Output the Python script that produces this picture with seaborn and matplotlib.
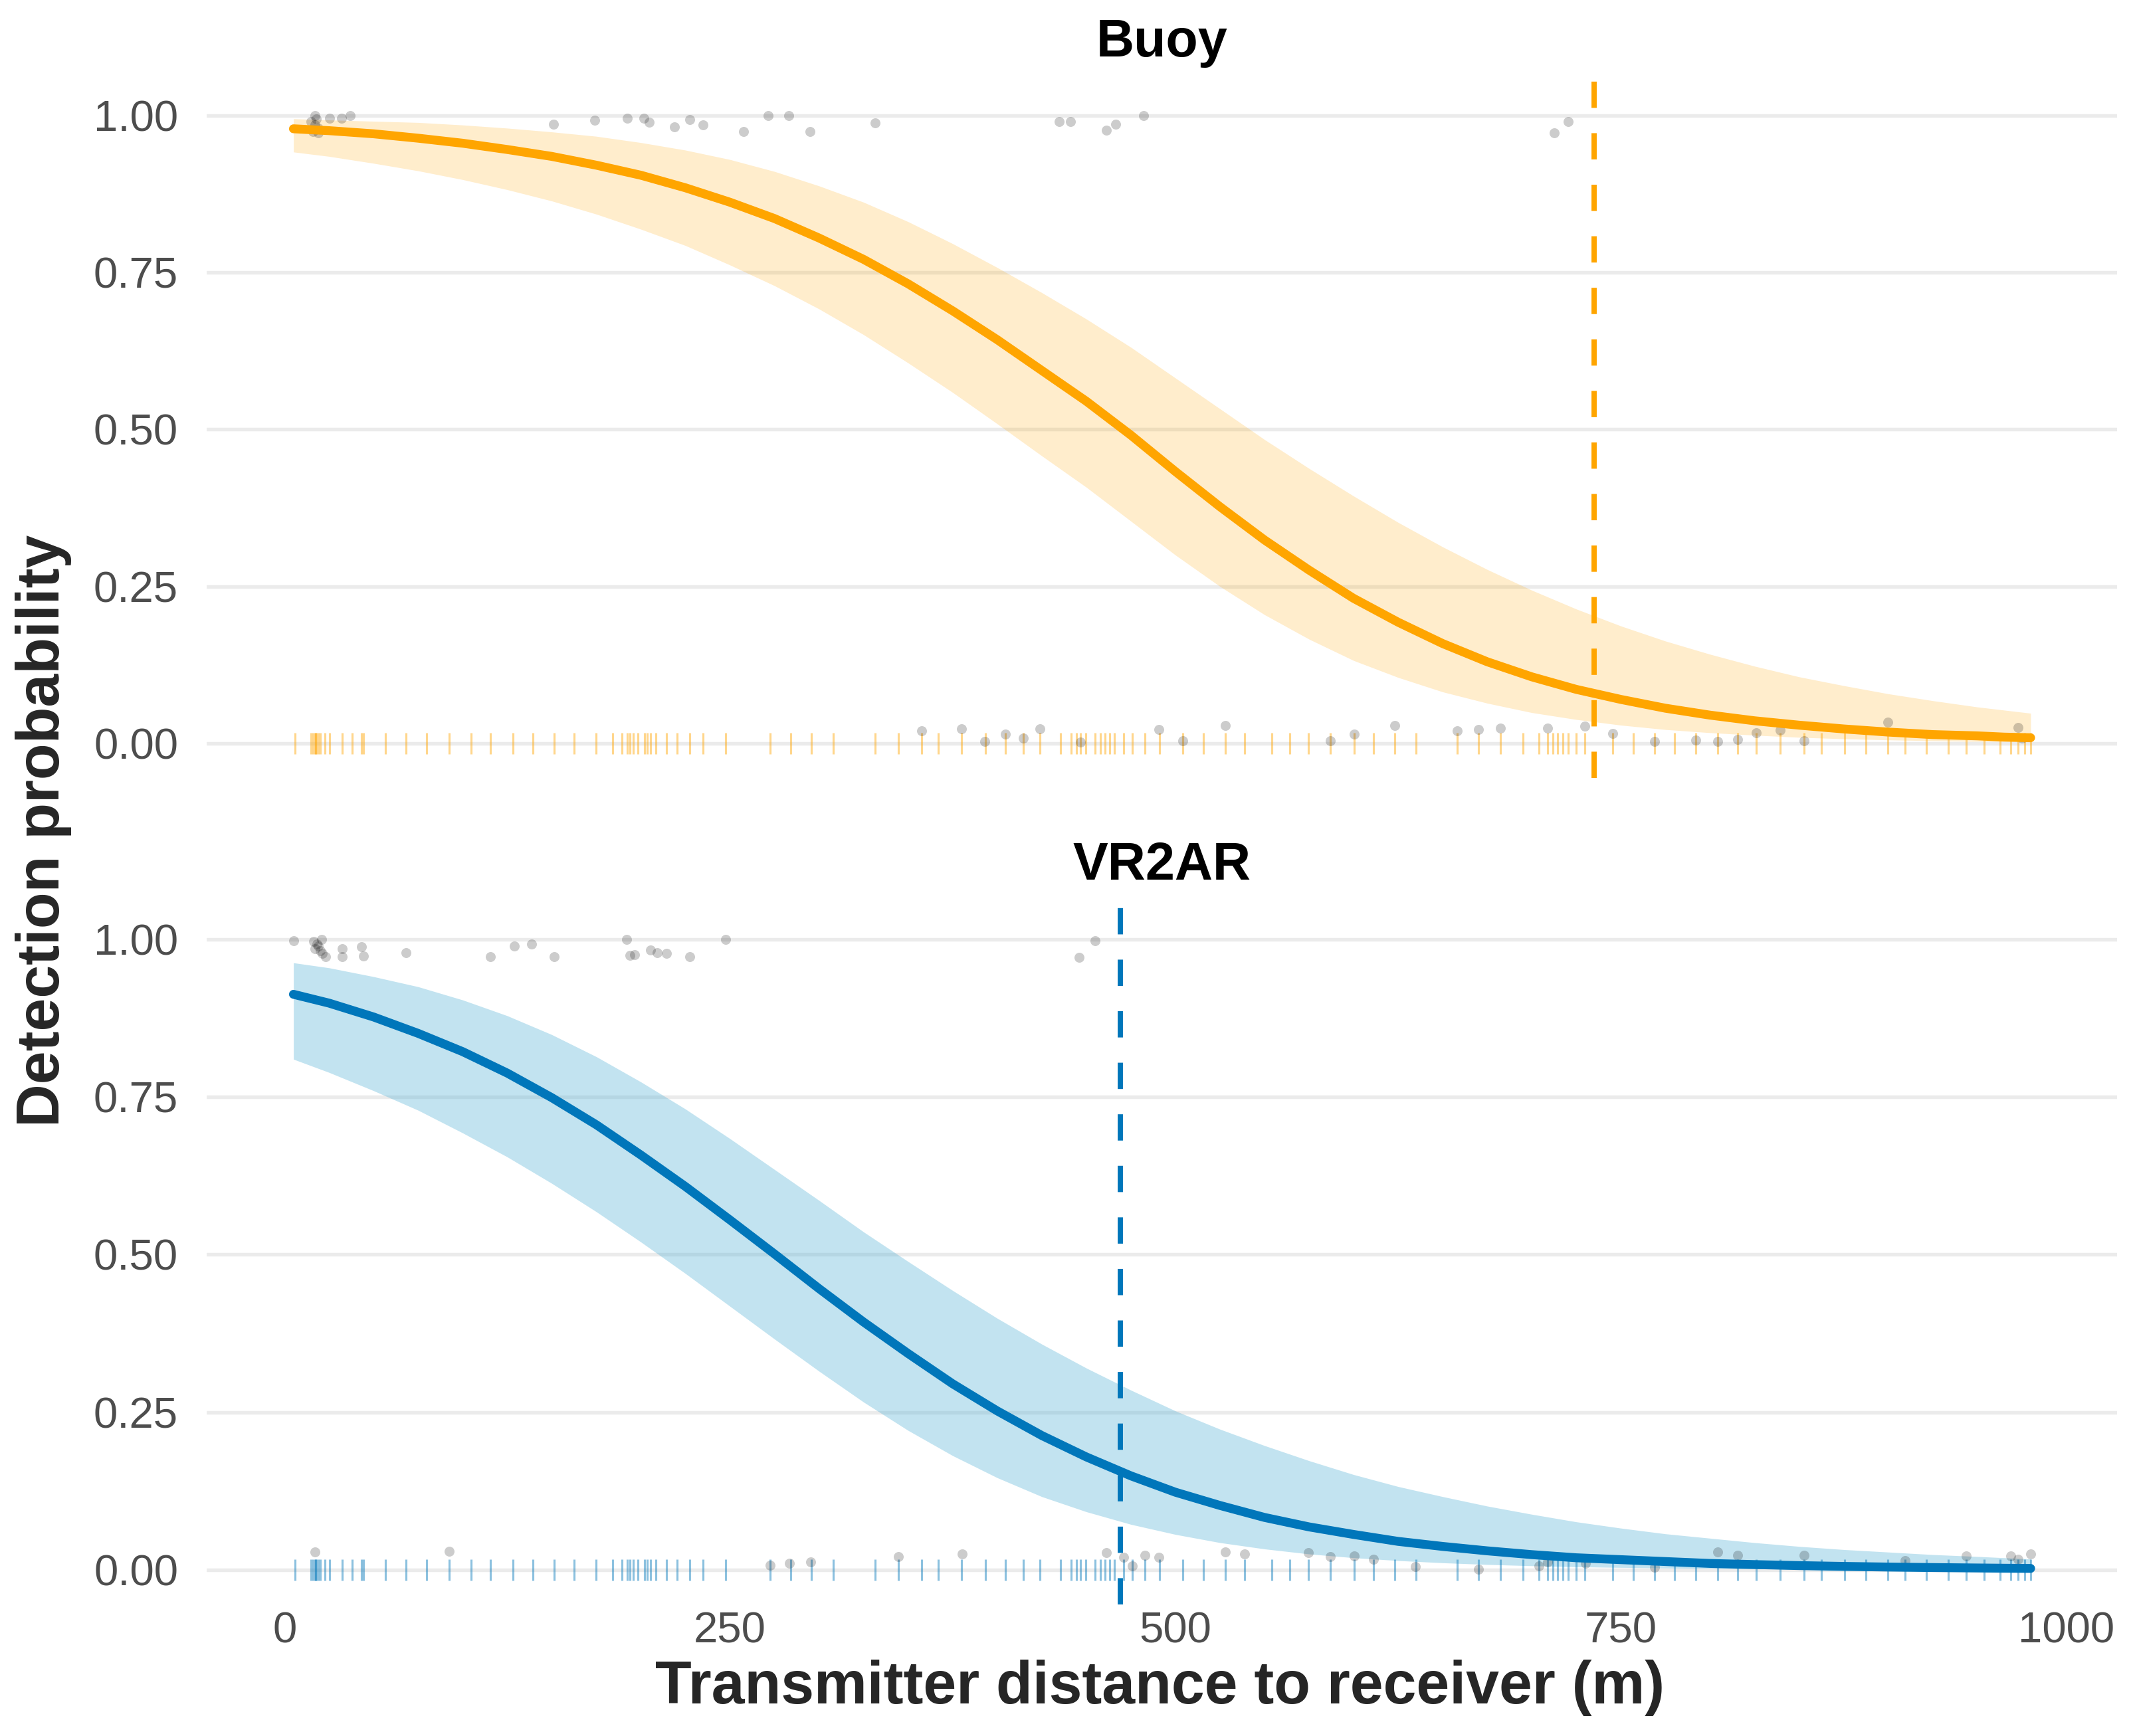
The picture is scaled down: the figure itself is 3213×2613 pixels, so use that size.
import matplotlib
matplotlib.use('Agg')
import matplotlib.pyplot as plt
import numpy as np
import pandas as pd
import seaborn as sns

# fitted curves and 95% bands, every 25 m
dist = [5, 25, 50, 75, 100, 125, 150, 175, 200, 225, 250, 275, 300, 325, 350, 375, 400,
        425, 450, 475, 500, 525, 550, 575, 600, 625, 650, 675, 700, 725, 750, 775, 800,
        825, 850, 875, 900, 925, 950, 965, 980]

buoy_fit = [0.979, 0.976, 0.971, 0.964, 0.956, 0.946, 0.935, 0.921, 0.905, 0.885, 0.862,
            0.836, 0.805, 0.771, 0.732, 0.689, 0.643, 0.594, 0.545, 0.491, 0.433, 0.377,
            0.324, 0.276, 0.231, 0.193, 0.159, 0.130, 0.106, 0.086, 0.070, 0.056, 0.045,
            0.036, 0.029, 0.023, 0.018, 0.014, 0.012, 0.010, 0.009]
buoy_hi = [0.995, 0.993, 0.991, 0.989, 0.985, 0.980, 0.974, 0.967, 0.957, 0.945, 0.930,
           0.911, 0.888, 0.862, 0.831, 0.796, 0.758, 0.718, 0.676, 0.631, 0.582, 0.533,
           0.484, 0.438, 0.394, 0.352, 0.313, 0.277, 0.244, 0.214, 0.187, 0.163, 0.142,
           0.123, 0.106, 0.092, 0.079, 0.068, 0.058, 0.053, 0.048]
buoy_lo = [0.942, 0.935, 0.924, 0.912, 0.898, 0.882, 0.864, 0.843, 0.819, 0.793, 0.762,
           0.729, 0.692, 0.651, 0.606, 0.559, 0.509, 0.458, 0.408, 0.354, 0.300, 0.250,
           0.205, 0.166, 0.132, 0.105, 0.082, 0.064, 0.049, 0.038, 0.029, 0.022, 0.017,
           0.013, 0.0096, 0.0073, 0.0055, 0.0042, 0.0031, 0.0027, 0.0022]

vr2ar_fit = [0.913, 0.899, 0.877, 0.851, 0.822, 0.788, 0.749, 0.706, 0.658, 0.608, 0.555,
             0.501, 0.446, 0.393, 0.343, 0.295, 0.252, 0.213, 0.179, 0.149, 0.123, 0.102,
             0.083, 0.068, 0.056, 0.045, 0.037, 0.030, 0.024, 0.019, 0.016, 0.013, 0.010,
             0.0082, 0.0066, 0.0053, 0.0043, 0.0035, 0.0028, 0.0024, 0.0021]
vr2ar_hi = [0.963, 0.955, 0.941, 0.925, 0.904, 0.879, 0.849, 0.814, 0.774, 0.731, 0.684,
            0.635, 0.586, 0.536, 0.489, 0.443, 0.399, 0.358, 0.320, 0.285, 0.252, 0.223,
            0.197, 0.173, 0.151, 0.132, 0.116, 0.101, 0.088, 0.076, 0.066, 0.057, 0.050,
            0.043, 0.037, 0.032, 0.028, 0.024, 0.021, 0.019, 0.017]
vr2ar_lo = [0.810, 0.789, 0.760, 0.729, 0.693, 0.655, 0.613, 0.568, 0.520, 0.470, 0.418,
            0.366, 0.315, 0.266, 0.221, 0.181, 0.146, 0.116, 0.092, 0.072, 0.056, 0.043,
            0.033, 0.025, 0.019, 0.0145, 0.011, 0.0083, 0.0063, 0.0047, 0.0036, 0.0027,
            0.0020, 0.0015, 0.0011, 0.0008, 0.0006, 0.0005, 0.0003, 0.0003, 0.0002]

# 50 % detection range (dashed lines)
buoy_d50 = 735
vr2ar_d50 = 469

# jittered detections (distance, detected)
buoy_pts_x = [15, 16, 17, 17.1, 18, 18.9, 19, 25.4, 32, 37, 151, 174, 192.5, 201.8, 204.5,
              219, 227.6, 235, 257.7, 271.6, 283, 295, 331.6, 434.6, 441.3, 461.3, 466.3,
              482, 712.6, 720.6,
              357.7, 380, 393, 404.4, 414.8, 424, 446.8, 490.7, 504, 528, 587, 600.5, 623,
              658, 670, 682.5, 709, 729.7, 745.6, 769, 792, 804.5, 815.5, 826, 839.4, 853,
              900, 973, 975]
buoy_pts_y = [0.99, 0.975, 0.985, 1.0, 0.995, 0.972, 0.98, 0.996, 0.996, 1.0, 0.986, 0.993,
              0.996, 0.996, 0.989, 0.982, 0.994, 0.985, 0.975, 1.0, 1.0, 0.975, 0.988, 0.991,
              0.991, 0.977, 0.986, 1.0, 0.973, 0.990,
              0.020, 0.023, 0.003, 0.015, 0.008, 0.023, 0.002, 0.022, 0.004, 0.028, 0.004,
              0.015, 0.028, 0.020, 0.022, 0.024, 0.024, 0.027, 0.016, 0.003, 0.005, 0.003,
              0.006, 0.017, 0.021, 0.004, 0.034, 0.025, 0.008]

vr2ar_pts_x = [5.1, 16.5, 17, 18.2, 19, 20.8, 20, 21, 22.9, 32.5, 32.5, 43.2, 44.3, 68.2,
               115.6, 128.8, 138.8, 151.3, 191.9, 194, 196.5, 205.4, 209, 214.3, 227.6,
               247.5, 446.1, 455,
               17.2, 92.4, 272.5, 283.2, 295.3, 344.5, 380.2, 461.4, 471, 475.7, 482.9,
               490.7, 528, 539, 574.5, 587, 600.5, 611, 634.6, 670, 704, 709, 730, 769,
               804.5, 815.5, 853, 909.6, 943.8, 968.8, 973, 980]
vr2ar_pts_y = [0.998, 0.997, 0.985, 0.993, 0.99, 1.0, 0.982, 0.978, 0.973, 0.985, 0.973,
               0.989, 0.974, 0.979, 0.973, 0.990, 0.993, 0.973, 1.0, 0.975, 0.976, 0.983,
               0.979, 0.978, 0.973, 1.0, 0.972, 0.998,
               0.028, 0.029, 0.007, 0.010, 0.012, 0.021, 0.025, 0.027, 0.020, 0.006, 0.023,
               0.020, 0.028, 0.025, 0.027, 0.021, 0.022, 0.017, 0.005, 0.001, 0.006, 0.012,
               0.010, 0.004, 0.028, 0.023, 0.023, 0.014, 0.022, 0.022, 0.017, 0.025]

# distances of all transmitter positions (rug)
rug_dist = [5.8, 15, 16, 17, 17.5, 18, 19, 20, 22.5, 25.4, 32.5, 37.9, 43.2, 44.3, 56.8,
            68.2, 79.6, 92.4, 104.9, 115.6, 128.4, 139.5, 151.3, 162.7, 174.9, 184, 189.4,
            192.3, 194, 195.8, 198.3, 201.9, 203.7, 205.4, 208.3, 214.3, 220.4, 227.6, 235,
            247.5, 272.5, 284, 295.6, 307.8, 331.3, 344.5, 357.7, 367, 380, 393.3, 404.4,
            414.8, 424, 435.4, 441.5, 444.3, 446.8, 449.7, 455, 457.9, 460.4, 463.3, 465.8,
            471, 475.7, 482.8, 491, 504, 515.6, 528, 539, 554, 564, 574.5, 587, 600.5, 611,
            623, 635, 658, 670, 682.5, 695, 704, 709, 712, 714.6, 717.4, 720.6, 725, 729.7,
            745.6, 757, 769, 780, 792, 804.5, 815.5, 826, 839.4, 853, 862.5, 875.7, 887.5,
            900, 909.6, 921.4, 933.7, 943.8, 954, 963, 968.8, 973, 976.6, 980]

panels = [
    dict(title='Buoy', fit=buoy_fit, lo=buoy_lo, hi=buoy_hi, d50=buoy_d50,
         px=buoy_pts_x, py=buoy_pts_y, line='#FFA500', band='#FFA500', band_alpha=0.2,
         rug='#FFA500'),
    dict(title='VR2AR', fit=vr2ar_fit, lo=vr2ar_lo, hi=vr2ar_hi, d50=vr2ar_d50,
         px=vr2ar_pts_x, py=vr2ar_pts_y, line='#0076BA', band='#52B1D6', band_alpha=0.35,
         rug='#0076BA'),
]

sns.set_style('white')
plt.rcParams['font.family'] = ['Liberation Sans', 'DejaVu Sans']

fig = plt.figure(figsize=(10.71, 8.71), dpi=300)
ax_top = fig.add_axes([0.0968, 0.5519, 0.8948, 0.4014])
ax_bot = fig.add_axes([0.0968, 0.0758, 0.8948, 0.4030])

for ax, p in zip([ax_top, ax_bot], panels):
    ax.fill_between(dist, p['lo'], p['hi'], color=p['band'], alpha=p['band_alpha'],
                    linewidth=0, zorder=1)
    ax.plot(rug_dist, np.zeros(len(rug_dist)), linestyle='none', marker='|', ms=7.7,
            mew=0.75, color=p['rug'], alpha=0.45, zorder=2)
    sns.scatterplot(x=p['px'], y=p['py'], color='black', alpha=0.2, s=13,
                    linewidth=0, ax=ax, zorder=3)
    sns.lineplot(x=dist, y=p['fit'], color=p['line'], linewidth=3.2, ax=ax, zorder=4)
    ax.axvline(p['d50'], color=p['line'], linewidth=1.9, linestyle=(0, (5.0, 4.8)),
               zorder=5)

    ax.set_xlim(-43.7, 1028.5)
    ax.set_ylim(-0.055, 1.055)
    ax.set_xticks([0, 250, 500, 750, 1000])
    ax.set_yticks([0, 0.25, 0.5, 0.75, 1.0])
    ax.set_yticklabels(['0.00', '0.25', '0.50', '0.75', '1.00'])
    ax.yaxis.grid(True, color='#EBEBEB', linewidth=1.3)
    ax.xaxis.grid(False)
    ax.set_axisbelow(True)
    for s in ax.spines.values():
        s.set_visible(False)
    ax.tick_params(axis='both', length=0, labelsize=15.7, labelcolor='#4D4D4D')
    ax.tick_params(axis='y', pad=10.3)
    ax.tick_params(axis='x', pad=2.6)
    ax.set_xlabel('')
    ax.set_ylabel('')
    ax.set_title(p['title'], fontsize=19, fontweight='bold', pad=9, color='black')

ax_top.tick_params(axis='x', labelbottom=False)

fig.text(0.0205, 0.5216, 'Detection probability', rotation=90, ha='center', va='center',
         fontsize=21.5, fontweight='bold')
fig.text(0.5434, 0.0276, 'Transmitter distance to receiver (m)', ha='center', va='center',
         fontsize=21.5, fontweight='bold')

fig.savefig('out.png', dpi=300)
